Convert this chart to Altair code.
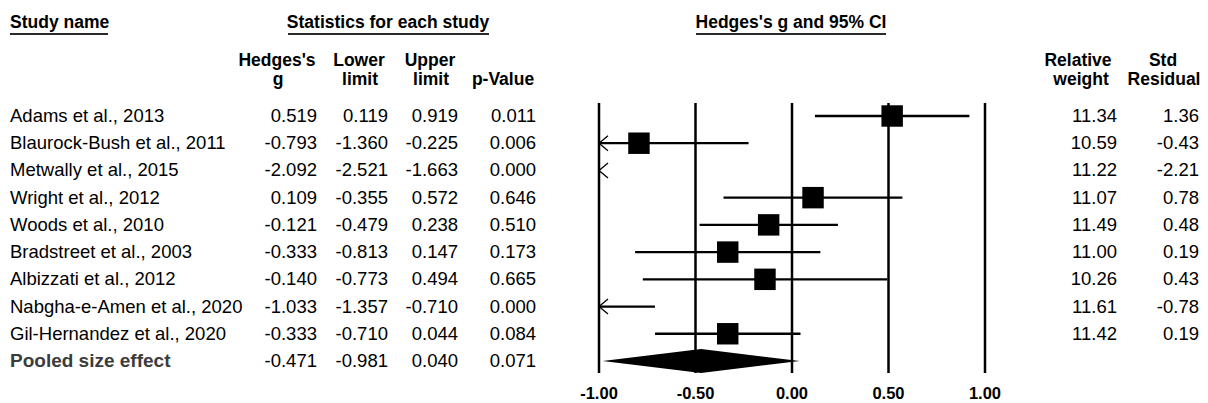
import altair as alt
import pandas as pd

# ---------------- data ----------------
studies = [
    "Adams et al., 2013",
    "Blaurock-Bush et al., 2011",
    "Metwally et al., 2015",
    "Wright et al., 2012",
    "Woods et al., 2010",
    "Bradstreet et al., 2003",
    "Albizzati et al., 2012",
    "Nabgha-e-Amen et al., 2020",
    "Gil-Hernandez et al., 2020",
]
hedges_g = [0.519, -0.793, -2.092, 0.109, -0.121, -0.333, -0.140, -1.033, -0.333]
lower = [0.119, -1.360, -2.521, -0.355, -0.479, -0.813, -0.773, -1.357, -0.710]
upper = [0.919, -0.225, -1.663, 0.572, 0.238, 0.147, 0.494, -0.710, 0.044]
p_value = [0.011, 0.006, 0.000, 0.646, 0.510, 0.173, 0.665, 0.000, 0.084]
rel_weight = [11.34, 10.59, 11.22, 11.07, 11.49, 11.00, 10.26, 11.61, 11.42]
std_resid = [1.36, -0.43, -2.21, 0.78, 0.48, 0.19, 0.43, -0.78, 0.19]

pooled_label = "Pooled size effect"
pooled_g, pooled_lower, pooled_upper, pooled_p = -0.471, -0.981, 0.040, 0.071

ticks = [-1.0, -0.5, 0.0, 0.5, 1.0]

# ---------------- tables ----------------
n = len(studies)
df = pd.DataFrame({
    "row": list(range(n)),
    "name": studies,
    "g": hedges_g,
    "lo": lower,
    "hi": upper,
    "p": p_value,
    "w": rel_weight,
    "r": std_resid,
})
df["gs"] = df["g"].map(lambda v: f"{v:.3f}")
df["los"] = df["lo"].map(lambda v: f"{v:.3f}")
df["his"] = df["hi"].map(lambda v: f"{v:.3f}")
df["ps"] = df["p"].map(lambda v: f"{v:.3f}")
df["ws"] = df["w"].map(lambda v: f"{v:.2f}")
df["rs"] = df["r"].map(lambda v: f"{v:.2f}")

xmin, xmax = min(ticks), max(ticks)
ci = df[(df["hi"] > xmin) & (df["lo"] < xmax)].copy()
ci["lo_c"] = ci["lo"].clip(lower=xmin)
ci["hi_c"] = ci["hi"].clip(upper=xmax)
boxes = df[(df["g"] >= xmin) & (df["g"] <= xmax)]
arrows = df[df["lo"] < xmin].copy()
arrows["ax"] = xmin

prow = n
pooled = pd.DataFrame({
    "row": [prow], "name": [pooled_label],
    "gs": [f"{pooled_g:.3f}"], "los": [f"{pooled_lower:.3f}"],
    "his": [f"{pooled_upper:.3f}"], "ps": [f"{pooled_p:.3f}"],
})
DH = 0.44  # diamond half height in row units (style)
diamond = pd.DataFrame({
    "x": [pooled_lower, pooled_g, pooled_upper],
    "y1": [prow, prow - DH, prow],
    "y2": [prow, prow + DH, prow],
})
tick_df = pd.DataFrame({"t": ticks, "lbl": [f"{t:.2f}" for t in ticks]})

# ---------------- scales ----------------
FONT = "Liberation Sans"
W, H = 1192, 394
XS = alt.Scale(domain=[-4.06218, 2.11399], nice=False, zero=False)
YS = alt.Scale(domain=[-3.9677, 10.507], nice=False, zero=False, reverse=True)


def xq(f):
    return alt.X(f, type="quantitative", scale=XS, axis=None)


def yq(f):
    return alt.Y(f, type="quantitative", scale=YS, axis=None)


dummy = alt.Data(values=[{"a": 1}])


def label(text, x, y, align="center", size=17.5, weight="bold", color="black"):
    return alt.Chart(dummy).mark_text(
        text=text, align=align, baseline="middle", font=FONT,
        fontSize=size, fontWeight=weight, color=color,
    ).encode(x=alt.value(x), y=alt.value(y))


def uline(x1, x2, y):
    return alt.Chart(dummy).mark_rule(color="#2a2a2a", strokeWidth=2).encode(
        x=alt.value(x1), x2=alt.value(x2), y=alt.value(y))


layers = []

# headers
layers += [
    label("Study name", 2, 15, align="left"),
    uline(2, 100, 26),
    label("Statistics for each study", 380, 15),
    uline(280, 481, 26),
    label("Hedges's g and 95% CI", 783, 15),
    uline(688, 878, 26),
    label("Hedges's", 269, 53), label("g", 270, 72),
    label("Lower", 351, 53), label("limit", 352, 72),
    label("Upper", 422, 53), label("limit", 423, 72),
    label("p-Value", 495, 72),
    label("Relative", 1070, 53), label("weight", 1073, 72),
    label("Std", 1155, 53), label("Residual", 1156, 72),
]

# vertical reference lines
layers.append(
    alt.Chart(tick_df).mark_rule(color="black", strokeWidth=2.5).encode(
        x=xq("t"), y=alt.value(95), y2=alt.value(365))
)
# tick labels
layers.append(
    alt.Chart(tick_df).mark_text(font=FONT, fontSize=16.5, fontWeight="bold",
                                 baseline="middle", color="black").encode(
        x=xq("t"), y=alt.value(386), text="lbl:N")
)
# CI lines
layers.append(
    alt.Chart(ci).mark_rule(color="black", strokeWidth=2.3).encode(
        x=xq("lo_c"), x2=alt.X2("hi_c"), y=yq("row"))
)
# arrows for clipped CIs
layers.append(
    alt.Chart(arrows).mark_point(shape="M 1.2 -1 L 0 0 L 1.2 1", size=225,
                                 filled=False, color="black", strokeWidth=1.3,
                                 opacity=1).encode(x=xq("ax"), y=yq("row"))
)
# boxes
layers.append(
    alt.Chart(boxes).mark_square(size=460, color="black", opacity=1).encode(
        x=xq("g"), y=yq("row"))
)
# pooled diamond
layers.append(
    alt.Chart(diamond).mark_area(color="black").encode(
        x=xq("x"), y=yq("y1"), y2=alt.Y2("y2"))
)

# table texts
BODY = 18.5
layers.append(
    alt.Chart(df).mark_text(align="left", baseline="middle", font=FONT,
                            fontSize=BODY, color="black").encode(
        x=alt.value(2), y=yq("row"), text="name:N")
)
layers.append(
    alt.Chart(pooled).mark_text(align="left", baseline="middle", font=FONT,
                                fontSize=19, fontWeight="bold",
                                color="#3c3c3c").encode(
        x=alt.value(2), y=yq("row"), text="name:N")
)
for col, xr in [("gs", 309), ("los", 380), ("his", 450), ("ps", 528)]:
    for src in (df, pooled):
        layers.append(
            alt.Chart(src).mark_text(align="right", baseline="middle",
                                     font=FONT, fontSize=BODY,
                                     color="black").encode(
                x=alt.value(xr), y=yq("row"), text=f"{col}:N")
        )
for col, xr in [("ws", 1109), ("rs", 1191)]:
    layers.append(
        alt.Chart(df).mark_text(align="right", baseline="middle", font=FONT,
                                fontSize=BODY, color="black").encode(
            x=alt.value(xr), y=yq("row"), text=f"{col}:N")
    )

chart = alt.layer(*layers).properties(
    width=W, height=H, padding=0,
    autosize=alt.AutoSizeParams(type="none"),
    background="white",
).configure_view(strokeWidth=0)

chart.save("out.html", embed_options={"renderer": "svg", "actions": False})
